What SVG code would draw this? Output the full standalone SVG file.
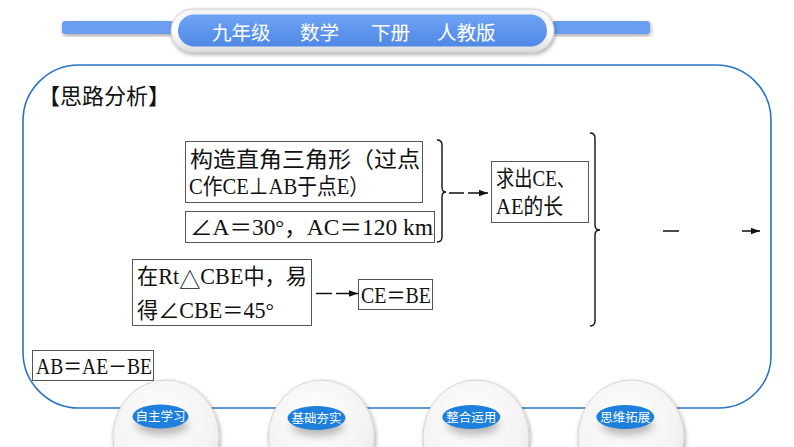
<svg xmlns="http://www.w3.org/2000/svg" width="794" height="447" viewBox="0 0 794 447">
<style>
.box{fill:#fff;stroke:#555;stroke-width:1}
.t{font-family:"Liberation Serif","Noto Sans CJK SC",serif;font-size:22px;fill:#111}
.L{font-size:23px}
.nav{font-family:"Liberation Serif","Noto Sans CJK SC",serif;font-size:12.5px;fill:#fff;text-anchor:middle}
.hd{font-family:"Noto Sans CJK SC","Noto Sans",sans-serif;font-size:19.5px;fill:#fff}
.con{fill:none;stroke:#111;stroke-width:1.3}
.brace{fill:none;stroke:#111;stroke-width:1.4}
.outer{fill:url(#og);stroke:#d6d6d6;stroke-width:1;filter:url(#sh)}
.blue{fill:#1e7fdc}
</style>
<defs>
<marker id="ah" markerUnits="userSpaceOnUse" markerWidth="9" markerHeight="7" viewBox="0 0 10 7" refX="10" refY="3.5" orient="auto"><path d="M0,0 L10,3.5 L0,7 Z" fill="#111"/></marker>
<radialGradient id="og" cx="0.45" cy="0.35" r="0.7"><stop offset="0" stop-color="#ffffff"/><stop offset="0.7" stop-color="#f3f3f3"/><stop offset="1" stop-color="#e2e2e2"/></radialGradient>
<linearGradient id="pg" x1="0" y1="0" x2="0" y2="1"><stop offset="0" stop-color="#6ea4f4"/><stop offset="1" stop-color="#4f88e6"/></linearGradient>
<linearGradient id="pb" x1="0" y1="0" x2="0" y2="1"><stop offset="0" stop-color="#f2f2f2"/><stop offset="0.5" stop-color="#ffffff"/><stop offset="1" stop-color="#dcdcdc"/></linearGradient>
<filter id="sh" x="-20%" y="-20%" width="140%" height="140%"><feGaussianBlur in="SourceAlpha" stdDeviation="2"/><feOffset dx="1" dy="2"/><feComponentTransfer><feFuncA type="linear" slope="0.35"/></feComponentTransfer><feMerge><feMergeNode/><feMergeNode in="SourceGraphic"/></feMerge></filter>
<filter id="bl" x="-50%" y="-50%" width="200%" height="200%"><feGaussianBlur stdDeviation="4"/></filter>
</defs>

<g id="header">
<rect x="62" y="21" width="112" height="13" rx="3" fill="#6a9ef0" filter="url(#sh)"/>
<rect x="552" y="21" width="98" height="13" rx="3" fill="#6a9ef0" filter="url(#sh)"/>
<rect x="171" y="9" width="383" height="43" rx="21.5" fill="url(#pb)" stroke="#d0d0d0" stroke-width="1" filter="url(#sh)"/>
<rect x="178" y="14.5" width="369" height="32" rx="16" fill="url(#pg)"/>
<text class="hd" x="212" y="40">九年级</text>
<text class="hd" x="300" y="40">数学</text>
<text class="hd" x="371" y="40">下册</text>
<text class="hd" x="437" y="40">人教版</text>
</g>

<g id="frame">
<path d="M79,65 H716 A55,55 0 0 1 771,120 V356 A52,52 0 0 1 719,408 H79 A56,56 0 0 1 23,352 V121 A56,56 0 0 1 79,65 Z" fill="none" stroke="#2a74c2" stroke-width="1.6"/>
</g>

<g id="title">
<text class="t" x="38" y="104">【思路分析】</text>
</g>

<g id="n1">
<rect class="box" x="185.5" y="141.5" width="237" height="61"/>
<text class="t" x="190" y="167" textLength="230" lengthAdjust="spacingAndGlyphs">构造直角三角形（过点</text>
<text class="t" x="189" y="194" textLength="180" lengthAdjust="spacingAndGlyphs"><tspan class="L">C</tspan>作<tspan class="L">CE</tspan>⊥<tspan class="L">AB</tspan>于点<tspan class="L">E</tspan>）</text>
</g>
<g id="n2">
<rect class="box" x="185.5" y="211.5" width="249" height="31"/>
<text class="t" x="190" y="235" textLength="243" lengthAdjust="spacingAndGlyphs">∠<tspan class="L">A</tspan>＝<tspan class="L">30</tspan>°，<tspan class="L">AC</tspan>＝<tspan class="L">120 km</tspan></text>
</g>
<g id="n3">
<rect class="box" x="491.5" y="161.5" width="97" height="61"/>
<text class="t" x="496" y="186" textLength="79" lengthAdjust="spacingAndGlyphs">求出<tspan class="L">CE</tspan>、</text>
<text class="t" x="496" y="214" textLength="67" lengthAdjust="spacingAndGlyphs"><tspan class="L">AE</tspan>的长</text>
</g>
<g id="n4">
<rect class="box" x="132.5" y="259.5" width="179" height="66"/>
<text class="t" x="137" y="284" textLength="170" lengthAdjust="spacingAndGlyphs">在<tspan class="L">Rt</tspan><tspan dy="4">△</tspan><tspan class="L" dy="-4">CBE</tspan>中，易</text>
<text class="t" x="137" y="318" textLength="137" lengthAdjust="spacingAndGlyphs">得∠<tspan class="L">CBE</tspan>＝<tspan class="L">45</tspan>°</text>
</g>
<g id="n5">
<rect class="box" x="358.5" y="279.5" width="74" height="30"/>
<text class="t" x="361" y="303" textLength="70" lengthAdjust="spacingAndGlyphs"><tspan class="L">CE</tspan>＝<tspan class="L">BE</tspan></text>
</g>
<g id="n6">
<rect class="box" x="32.5" y="350.5" width="121" height="30"/>
<text class="t" x="36" y="374" textLength="116" lengthAdjust="spacingAndGlyphs"><tspan class="L">AB</tspan>＝<tspan class="L">AE</tspan>－<tspan class="L">BE</tspan></text>
</g>

<g id="connectors">
<path class="brace" d="M437,140 Q442,140 442,145 V187 Q442,192 446,192 Q442,192 442,197 V237 Q442,242 437,242"/>
<path class="brace" d="M590,133 Q595,133 595,138 V225 Q595,230 600,230 Q595,230 595,235 V321 Q595,326 590,326"/>
<line class="con" x1="449" y1="193" x2="488" y2="193" stroke-dasharray="15 4 40" marker-end="url(#ah)"/>
<line class="con" x1="316" y1="293.5" x2="358" y2="293.5" stroke-dasharray="16 4 40" marker-end="url(#ah)"/>
<line class="con" x1="663" y1="231" x2="760" y2="231" stroke-dasharray="16 63 40" marker-end="url(#ah)"/>
</g>

<g id="nav1">
<ellipse class="outer" cx="166" cy="437" rx="53" ry="57"/>
<ellipse cx="162" cy="425" rx="26" ry="10" fill="#888" opacity="0.6" filter="url(#bl)"/>
<ellipse class="blue" cx="160.5" cy="416.5" rx="28" ry="12"/>
<text class="nav" x="160.5" y="421">自主学习</text>
</g>
<g id="nav2">
<ellipse class="outer" cx="321.5" cy="437" rx="53" ry="57"/>
<ellipse cx="318" cy="426" rx="26" ry="10" fill="#888" opacity="0.6" filter="url(#bl)"/>
<ellipse class="blue" cx="316.5" cy="418" rx="29" ry="12"/>
<text class="nav" x="316.5" y="422.5">基础夯实</text>
</g>
<g id="nav3">
<ellipse class="outer" cx="476" cy="437" rx="53" ry="57"/>
<ellipse cx="473" cy="425" rx="26" ry="10" fill="#888" opacity="0.6" filter="url(#bl)"/>
<ellipse class="blue" cx="471.3" cy="417" rx="29" ry="12"/>
<text class="nav" x="471.3" y="421.5">整合运用</text>
</g>
<g id="nav4">
<ellipse class="outer" cx="631" cy="437" rx="53" ry="57"/>
<ellipse cx="627" cy="425" rx="26" ry="10" fill="#888" opacity="0.6" filter="url(#bl)"/>
<ellipse class="blue" cx="625.3" cy="417" rx="29" ry="12"/>
<text class="nav" x="625.3" y="421.5">思维拓展</text>
</g>
</svg>
